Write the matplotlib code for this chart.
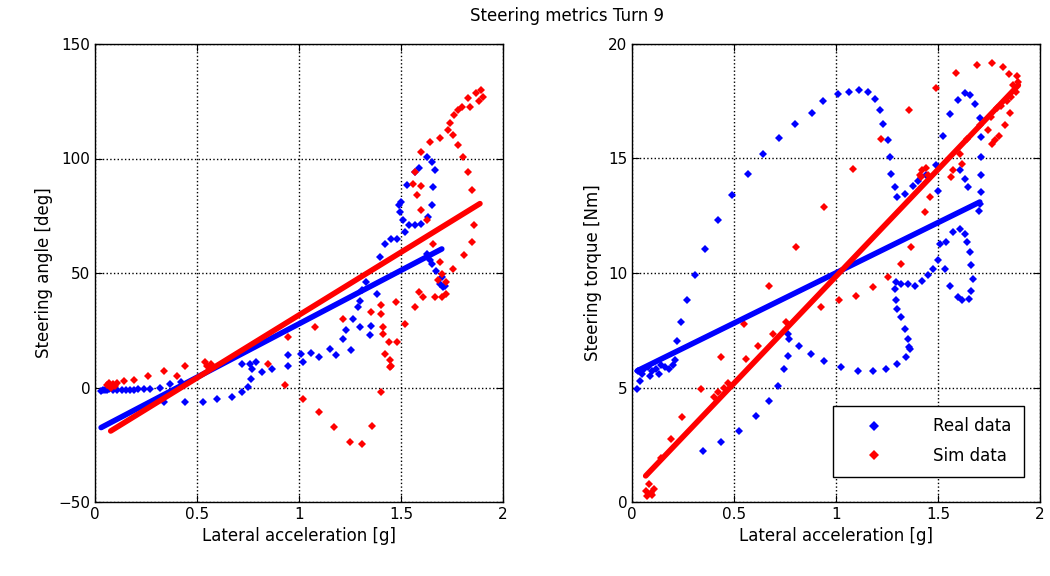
import matplotlib.pyplot as plt

# Left panel: steering angle vs lateral acceleration
real_ay_angle = [0.03, 0.04, 0.05, 0.06, 0.07, 0.09, 0.11, 0.13, 0.15, 0.17, 0.19, 0.21, 0.24, 0.27,
                 0.32, 0.37, 0.42,
                 0.34, 0.44, 0.53, 0.60, 0.67, 0.72, 0.75, 0.765, 0.77, 0.76, 0.72, 0.79, 0.82, 0.87,
                 0.945, 0.945, 1.01, 1.02, 1.06, 1.10, 1.15, 1.18, 1.215, 1.23, 1.256, 1.264, 1.29,
                 1.30, 1.31, 1.33, 1.297, 1.355, 1.35, 1.38, 1.395, 1.42, 1.45, 1.48, 1.52, 1.54,
                 1.57, 1.60, 1.63, 1.51, 1.494, 1.49, 1.50, 1.527, 1.57, 1.59, 1.625, 1.65, 1.666,
                 1.657, 1.65, 1.625, 1.64, 1.65, 1.674, 1.70, 1.69, 1.707, 1.715]
real_angle = [-1.5, -1.0, -1.0, -1.2, -0.8, -1.0, -1.3, -1.0, -0.9, -1.2, -1.0, -0.8, -0.6, -0.5,
              0.0, 1.5, 2.5,
              -6.4, -6.4, -6.4, -5.0, -4.2, -2.0, 0.1, 3.8, 8.2, 10.4, 10.4, 11.0, 6.7, 8.2,
              14.0, 9.6, 14.7, 11.0, 15.0, 13.3, 16.9, 14.0, 21.3, 24.9, 16.2, 30.0, 35.0,
              37.6, 42.4, 46.0, 26.4, 27.0, 23.0, 41.0, 57.0, 62.8, 65.0, 65.0, 68.0, 70.9,
              71.0, 71.6, 74.5, 73.0, 76.7, 79.6, 81.0, 88.4, 94.2, 95.7, 100.7, 98.6, 95.0,
              87.6, 79.6, 58.5, 55.6, 54.0, 51.0, 48.3, 45.4, 43.9, 44.5]

sim_ay_angle = [0.06, 0.07, 0.08, 0.09, 0.10, 0.11, 0.14, 0.19, 0.26, 0.34, 0.40, 0.44, 0.54,
                0.55, 0.57, 0.85, 0.945, 0.93, 1.02, 1.08, 1.10, 1.17, 1.215, 1.25, 1.31, 1.36,
                1.355, 1.40, 1.40, 1.41, 1.40, 1.41, 1.42, 1.44, 1.445, 1.45, 1.445, 1.48, 1.477,
                1.52, 1.57, 1.59, 1.61, 1.666, 1.70, 1.72, 1.72, 1.68, 1.70, 1.756, 1.69, 1.657,
                1.625, 1.60, 1.576, 1.60, 1.56, 1.57, 1.60, 1.64, 1.69, 1.73, 1.74, 1.76, 1.78,
                1.80, 1.83, 1.87, 1.89, 1.90, 1.88, 1.84, 1.756, 1.78, 1.805, 1.83, 1.846, 1.86,
                1.846, 1.81]
sim_angle = [1.0, 2.0, 0.0, 1.5, 0.5, 2.0, 3.0, 3.4, 5.2, 7.4, 5.2, 9.6, 11.0,
             9.6, 10.4, 10.4, 22.0, 0.9, -5.0, 26.4, -10.8, -17.4, 30.0, -23.9, -24.6, -16.6,
             33.0, 35.9, 32.0, 26.4, -2.0, 23.5, 14.7, 19.8, 11.8, 9.6, 8.9, 19.8, 37.3,
             27.9, 35.1, 41.7, 39.5, 39.5, 39.5, 41.0, 46.0, 46.8, 49.7, 51.9, 54.8, 62.8,
             73.0, 77.4, 84.0, 88.0, 89.0, 94.2, 103.0, 107.3, 108.8, 112.4, 115.4, 118.8, 121.0,
             122.6, 126.6, 128.5, 129.7, 127.0, 125.0, 122.6, 110.2, 105.9, 100.8, 94.2, 86.2, 70.9,
             63.6, 57.7]

# Linear fits (end points), left panel
real_fit_ay_angle = [0.03, 1.70]
real_fit_angle = [-17.5, 60.5]
sim_fit_ay_angle = [0.077, 1.887]
sim_fit_angle = [-19.0, 80.3]

# Right panel: steering torque vs lateral acceleration
real_ay_torque = [0.026, 0.04, 0.05, 0.03, 0.06, 0.08, 0.09, 0.10, 0.12, 0.13, 0.14, 0.16, 0.18,
                  0.20, 0.21,
                  0.22, 0.24, 0.27, 0.31, 0.36, 0.42, 0.49, 0.567, 0.64, 0.72, 0.80, 0.88, 0.935,
                  1.01, 1.066, 1.115, 1.156, 1.19, 1.214, 1.23, 1.255, 1.263, 1.27, 1.287, 1.30,
                  1.337, 1.377, 1.40, 1.44, 1.49, 1.50, 1.525, 1.56, 1.60, 1.63, 1.656, 1.68, 1.705,
                  1.713, 1.713, 1.713, 1.713, 1.705, 1.70, 1.647, 1.63, 1.607,
                  1.51, 1.54, 1.574, 1.607, 1.63, 1.64, 1.656, 1.664, 1.672, 1.664, 1.65, 1.62, 1.60,
                  1.56, 1.533, 1.50, 1.476, 1.45, 1.42, 1.386, 1.353, 1.32, 1.296, 1.29, 1.296, 1.30,
                  1.32, 1.337, 1.353, 1.36, 1.361, 1.345, 1.30, 1.247, 1.18, 1.107, 1.025, 0.943,
                  0.878, 0.82, 0.77, 0.763, 0.763, 0.747, 0.714, 0.673, 0.608, 0.526, 0.436, 0.346]
real_torque = [4.93, 5.3, 5.6, 5.7, 5.8, 5.9, 5.5, 5.7, 5.8, 5.6, 6.0, 5.9, 5.8,
               6.0, 6.2,
               7.05, 7.85, 8.8, 9.9, 11.06, 12.3, 13.4, 14.34, 15.2, 15.9, 16.5, 17.0, 17.5,
               17.8, 17.9, 18.0, 17.9, 17.6, 17.1, 16.5, 15.8, 15.07, 14.34, 13.76, 13.3,
               13.46, 13.8, 14.0, 14.3, 14.7, 13.6, 16.0, 16.96, 17.55, 17.84, 17.77, 17.4, 16.75,
               15.95, 15.07, 14.27, 13.54, 13.03, 12.7, 13.76, 14.1, 14.49,
               11.28, 11.35, 11.78, 11.93, 11.7, 11.35, 10.9, 10.33, 9.75, 9.23, 8.87, 8.8, 8.94,
               9.45, 10.18, 10.55, 10.18, 9.9, 9.67, 9.45, 9.53, 9.53, 9.6, 9.3, 8.8, 8.43,
               8.07, 7.56, 7.12, 6.75, 6.68, 6.32, 6.02, 5.8, 5.73, 5.73, 5.88, 6.17,
               6.46, 6.83, 7.12, 7.34, 6.39, 5.8, 5.08, 4.42, 3.76, 3.1, 2.6, 2.23]

sim_ay_torque = [0.075, 0.092, 0.108, 0.07, 0.084, 0.10, 0.14, 0.19, 0.247, 0.337, 0.436, 0.40,
                 0.42, 0.45, 0.47, 0.559, 0.55, 0.616, 0.69, 0.755, 0.673, 0.804, 0.927, 0.943,
                 1.017, 1.083, 1.10, 1.18, 1.22, 1.255, 1.32, 1.37, 1.36, 1.435, 1.46, 1.49, 1.41,
                 1.42, 1.415, 1.44, 1.45, 1.566, 1.574, 1.62, 1.607, 1.64, 1.59, 1.69, 1.763, 1.82,
                 1.85, 1.885, 1.893, 1.86, 1.853, 1.83, 1.80, 1.78, 1.763, 1.746, 1.79, 1.81, 1.705,
                 1.87, 1.88, 1.84, 1.76]
sim_torque = [0.26, 0.41, 0.55, 0.5, 0.77, 0.3, 1.94, 2.74, 3.69, 4.93, 6.32, 4.6,
              4.8, 5.0, 5.2, 6.24, 7.78, 6.83, 7.34, 7.85, 9.45, 11.13, 8.5, 12.88,
              8.8, 14.56, 9.0, 9.38, 15.87, 9.82, 10.4, 11.13, 17.1, 12.66, 13.32, 18.06, 14.3,
              14.49, 14.2, 14.6, 14.27, 14.2, 14.49, 14.78, 15.2, 15.87, 18.72, 19.08, 19.15, 19.0,
              18.7, 18.6, 18.35, 17.7, 16.97, 16.45, 16.0, 15.8, 15.65, 16.24, 17.2, 17.3, 16.45,
              18.2, 17.9, 17.5, 16.8]

# Linear fits (end points), right panel
real_fit_ay_torque = [0.026, 1.705]
real_fit_torque = [5.73, 13.1]
sim_fit_ay_torque = [0.067, 1.894]
sim_fit_torque = [1.14, 18.2]

BLUE = "#0000ff"
RED = "#ff0000"


def style_axes(ax):
    ax.grid(True, linestyle=":", color="black", linewidth=1.0)
    ax.tick_params(direction="in", top=True, right=True, labelsize=11, length=5)
    for spine in ax.spines.values():
        spine.set_linewidth(1.0)
    ax.set_xlim(0, 2)
    ax.set_xticks([0, 0.5, 1, 1.5, 2])
    ax.set_xticklabels(["0", "0.5", "1", "1.5", "2"])
    ax.set_xlabel("Lateral acceleration [g]", fontsize=12)


def draw_panel(ax, rx, ry, sx, sy, rfx, rfy, sfx, sfy):
    h_real, = ax.plot(rx, ry, "D", color=BLUE, markersize=4.5, markeredgewidth=0, label="Real data")
    h_sim, = ax.plot(sx, sy, "D", color=RED, markersize=4.5, markeredgewidth=0, label="Sim data")
    ax.plot(rfx, rfy, "-", color=BLUE, linewidth=4.0, solid_capstyle="round")
    ax.plot(sfx, sfy, "-", color=RED, linewidth=4.0, solid_capstyle="round")
    return h_real, h_sim


fig = plt.figure(figsize=(10.5, 5.76), dpi=100)
ax1 = fig.add_axes([95 / 1050, 74 / 576, 408 / 1050, 458 / 576])
ax2 = fig.add_axes([632 / 1050, 74 / 576, 408 / 1050, 458 / 576])

draw_panel(ax1, real_ay_angle, real_angle, sim_ay_angle, sim_angle,
           real_fit_ay_angle, real_fit_angle, sim_fit_ay_angle, sim_fit_angle)
style_axes(ax1)
ax1.set_ylim(-50, 150)
ax1.set_yticks([-50, 0, 50, 100, 150])
ax1.set_ylabel("Steering angle [deg]", fontsize=12)

h_real, h_sim = draw_panel(ax2, real_ay_torque, real_torque, sim_ay_torque, sim_torque,
                           real_fit_ay_torque, real_fit_torque, sim_fit_ay_torque, sim_fit_torque)
style_axes(ax2)
ax2.set_ylim(0, 20)
ax2.set_yticks([0, 5, 10, 15, 20])
ax2.set_ylabel("Steering torque [Nm]", fontsize=12)

leg = ax2.legend(handles=[h_real, h_sim], loc="lower right", fontsize=12, fancybox=False,
                 framealpha=1, edgecolor="black", borderpad=0.7, handlelength=3.5,
                 handletextpad=1.8, labelspacing=0.7, markerscale=1.1,
                 bbox_to_anchor=(0.98, 0.037))
leg.get_frame().set_linewidth(1.0)

fig.text(567 / 1050, 1 - 16 / 576, "Steering metrics Turn 9", ha="center", va="center", fontsize=12)

fig.savefig("out.png", dpi=100)
